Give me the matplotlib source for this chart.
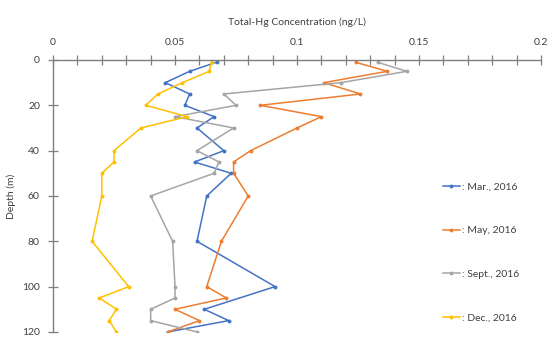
import matplotlib.pyplot as plt
from matplotlib.ticker import MultipleLocator

plt.rcParams['font.family'] = ['Lato', 'DejaVu Sans']

# depth (m) and Total-Hg (ng/L) per sampling campaign
depth_mar = [1, 5, 10, 15, 20, 25, 30, 40, 45, 50, 60, 80, 100, 110, 115, 120]
hg_mar = [0.067, 0.056, 0.046, 0.056, 0.054, 0.066, 0.059, 0.070, 0.058, 0.073,
          0.063, 0.059, 0.091, 0.062, 0.072, 0.047]

depth_may = [1, 5, 10, 15, 20, 25, 30, 40, 45, 50, 60, 80, 100, 105, 110, 115, 120]
hg_may = [0.124, 0.137, 0.111, 0.126, 0.085, 0.110, 0.100, 0.081, 0.074, 0.074,
          0.080, 0.069, 0.063, 0.071, 0.050, 0.060, 0.047]

depth_sep = [1, 5, 10, 15, 20, 25, 30, 40, 45, 50, 60, 80, 100, 105, 110, 115, 120]
hg_sep = [0.133, 0.145, 0.118, 0.070, 0.075, 0.050, 0.074, 0.059, 0.068, 0.066,
          0.040, 0.049, 0.050, 0.050, 0.040, 0.040, 0.059]

depth_dec = [1, 5, 10, 15, 20, 25, 30, 40, 45, 50, 60, 80, 100, 105, 110, 115, 120]
hg_dec = [0.065, 0.064, 0.053, 0.043, 0.038, 0.055, 0.036, 0.025, 0.025, 0.020,
          0.020, 0.016, 0.031, 0.019, 0.026, 0.023, 0.026]

labels = [': Mar., 2016', ': May, 2016', ': Sept., 2016', ': Dec., 2016']
colors = ['#4472C4', '#ED7D31', '#A5A5A5', '#FFC000']

fig = plt.figure(figsize=(5.47, 3.37), dpi=100)
ax = fig.add_axes([0.097, 0.015, 0.892, 0.807])

series = [(hg_mar, depth_mar), (hg_may, depth_may), (hg_sep, depth_sep), (hg_dec, depth_dec)]
for (x, y), c, lab in zip(series, colors, labels):
    ax.plot(x, y, color=c, lw=1.1, marker='o', ms=1.8, label=lab)

ax.set_xlim(0, 0.2)
ax.set_ylim(120, 0)
ax.xaxis.tick_top()
ax.xaxis.set_label_position('top')
ax.xaxis.set_major_locator(MultipleLocator(0.05))
ax.xaxis.set_minor_locator(MultipleLocator(0.01))
ax.yaxis.set_major_locator(MultipleLocator(20))
ax.xaxis.set_major_formatter(plt.FuncFormatter(lambda v, p: f'{v:g}'))

for s in ['right', 'bottom']:
    ax.spines[s].set_visible(False)
for s in ['top', 'left']:
    ax.spines[s].set_color('#7f7f7f')
    ax.spines[s].set_linewidth(1.0)

ax.tick_params(axis='both', which='both', direction='inout', length=7, width=0.9,
               color='#7f7f7f', labelsize=7.5, labelcolor='#404040', pad=6)

ax.set_xlabel('Total-Hg Concentration (ng/L)', fontsize=7.5, color='#404040', labelpad=9)
ax.set_ylabel('Depth (m)', fontsize=7.5, color='#404040', labelpad=4)

ax.legend(loc='upper left', bbox_to_anchor=(0.78, 0.585), frameon=False, fontsize=7.5,
          labelspacing=3.3, handlelength=1.6, handletextpad=0.2, labelcolor='#404040')

fig.savefig('out.png', dpi=100)
